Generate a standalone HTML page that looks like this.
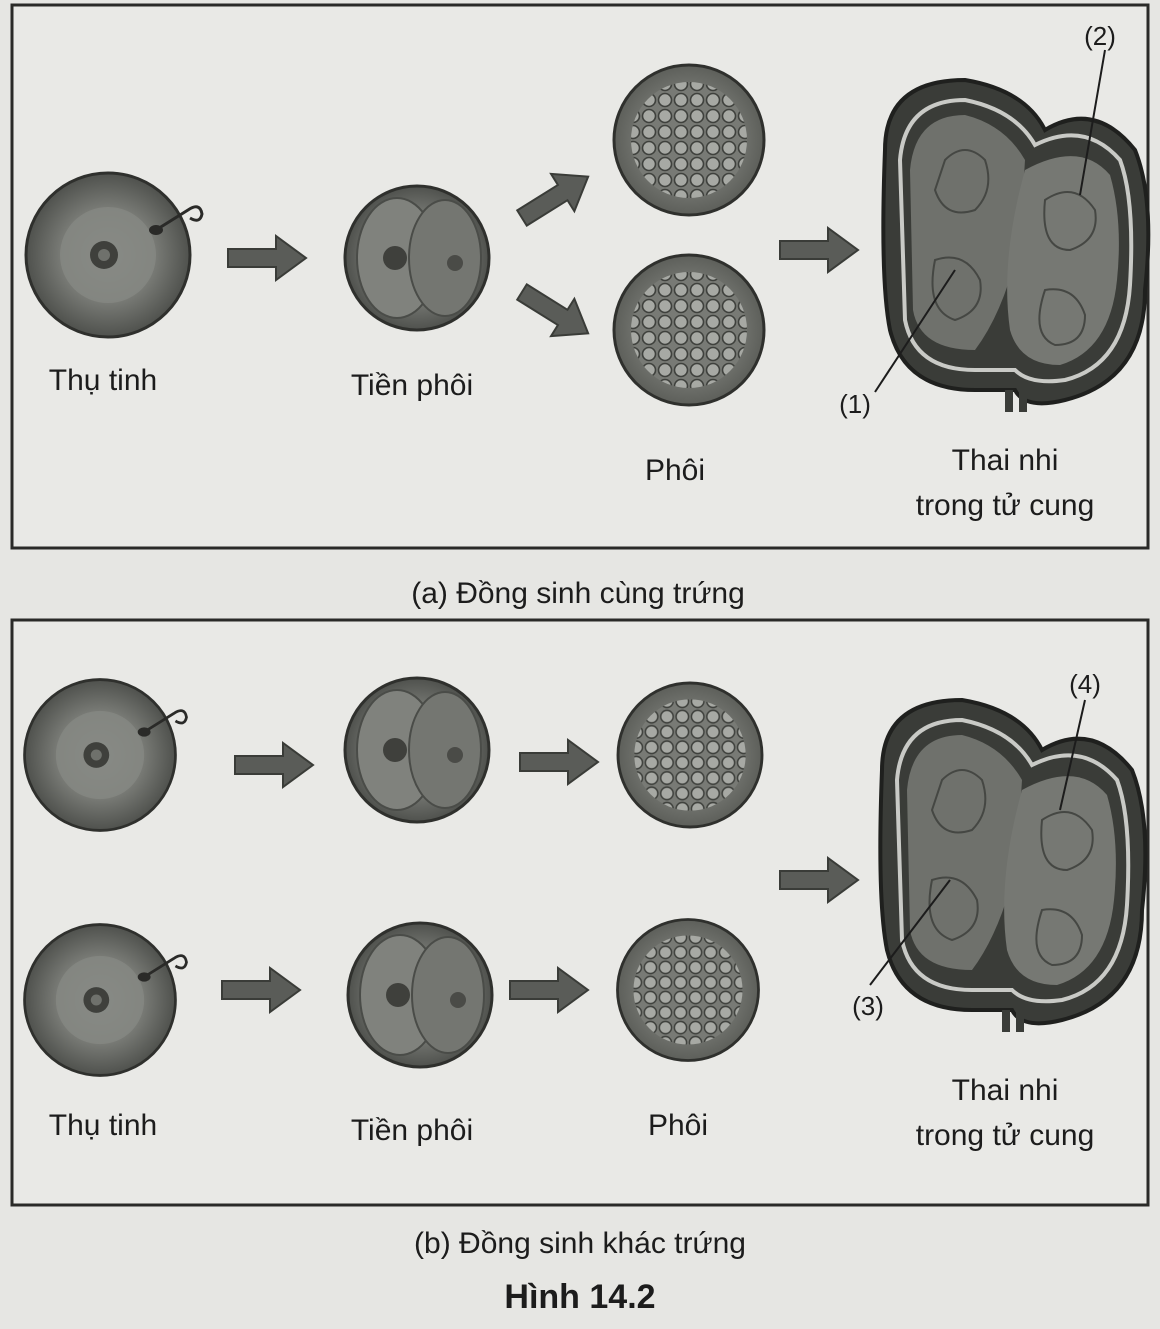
<!DOCTYPE html>
<html><head><meta charset="utf-8">
<style>
html,body{margin:0;padding:0;background:#e6e6e3;}
svg{display:block;}
text{font-family:"Liberation Sans","DejaVu Sans",sans-serif;fill:#1c1c1c;}
</style></head><body>
<svg width="1160" height="1329" viewBox="0 0 1160 1329" xmlns="http://www.w3.org/2000/svg">
<defs>
<radialGradient id="egg" cx="50%" cy="50%" r="50%">
<stop offset="0%" stop-color="#8e908b"/><stop offset="55%" stop-color="#7b7d78"/><stop offset="100%" stop-color="#4f514d"/>
</radialGradient>
<radialGradient id="emb" cx="50%" cy="50%" r="50%">
<stop offset="0%" stop-color="#9fa19c"/><stop offset="100%" stop-color="#5d5f5a"/>
</radialGradient>
<pattern id="cells" width="16" height="16" patternUnits="userSpaceOnUse">
<rect width="16" height="16" fill="#787a75"/>
<circle cx="8" cy="8" r="6.5" fill="#a7a9a4" stroke="#3f413d" stroke-width="1.6"/>
</pattern>
<g id="arrow"><polygon points="0,-9 48,-9 48,-22 78,0 48,22 48,9 0,9" fill="#5a5c58" stroke="#3a3c38" stroke-width="2"/></g>
<g id="egg1">
<circle r="82" fill="url(#egg)" stroke="#2f302d" stroke-width="3"/>
<circle r="48" fill="#868883" opacity="0.8"/>
<circle cx="-4" cy="0" r="14" fill="#3f403c"/>
<circle cx="-4" cy="0" r="6" fill="#6f716c"/>
<path d="M48,-25 L80,-45 q12,-8 14,4 q-2,10 -12,4" fill="none" stroke="#2a2a28" stroke-width="3"/>
<ellipse cx="48" cy="-25" rx="7" ry="5" fill="#2a2a28"/>
</g>
<g id="two">
<circle r="72" fill="url(#egg)" stroke="#2f302d" stroke-width="3"/>
<ellipse cx="-20" cy="0" rx="40" ry="60" fill="#80827d" stroke="#4a4c48" stroke-width="2"/>
<ellipse cx="28" cy="0" rx="36" ry="58" fill="#747671" stroke="#4a4c48" stroke-width="2"/>
<circle cx="-22" cy="0" r="12" fill="#3f403c"/>
<circle cx="38" cy="5" r="8" fill="#4a4b47"/>
</g>
<g id="ball">
<circle r="75" fill="url(#emb)" stroke="#2f302d" stroke-width="3"/>
<circle r="58" fill="url(#cells)"/>
</g>
<g id="uterus">
<path d="M-120,-90 Q-120,-160 -40,-160 Q20,-150 40,-110 Q90,-140 130,-90 Q150,-40 140,50 Q140,140 60,160 Q20,170 10,150 L-30,150 Q-100,150 -115,90 Q-125,40 -120,-90Z" fill="#3a3c38" stroke="#1f201e" stroke-width="4"/>
<path d="M-105,-80 Q-100,-140 -40,-140 Q10,-130 30,-95 Q80,-120 115,-80 Q130,-40 125,45 Q120,125 60,140 Q25,145 10,130 L-30,130 Q-90,130 -100,80Z" fill="none" stroke="#c9cac6" stroke-width="4"/>
<path d="M-95,-70 Q-90,-125 -40,-125 Q0,-115 20,-80 L15,0 Q0,70 -30,110 Q-85,110 -92,70Z" fill="#6f716c"/>
<path d="M20,-70 Q75,-100 105,-65 Q118,-20 112,40 Q105,110 55,125 Q15,125 5,90 Q-5,20 20,-70Z" fill="#767873"/>
<path d="M-60,-80 q20,-20 40,0 q10,30 -10,50 q-30,10 -40,-20z M40,-40 q30,-20 50,10 q5,30 -25,40 q-30,0 -25,-50z M-70,20 q30,-10 45,20 q5,30 -25,40 q-30,-10 -20,-60z M40,50 q30,-5 40,25 q0,30 -30,30 q-25,-10 -10,-55z" fill="none" stroke="#454743" stroke-width="2"/>
<rect x="0" y="150" width="8" height="22" fill="#3a3c38"/><rect x="14" y="150" width="8" height="22" fill="#3a3c38"/>
</g>
</defs>

<!-- Box a -->
<rect x="12" y="5" width="1136" height="543" fill="#e9e9e6" stroke="#2a2a28" stroke-width="3"/>
<use href="#egg1" x="108" y="255"/>
<use href="#arrow" x="228" y="258"/>
<use href="#two" x="417" y="258"/>
<use href="#arrow" transform="translate(522,218) rotate(-32)"/>
<use href="#arrow" transform="translate(522,292) rotate(32)"/>
<use href="#ball" x="689" y="140"/>
<use href="#ball" x="689" y="330"/>
<use href="#arrow" x="780" y="250"/>
<use href="#uterus" x="1005" y="240"/>
<line x1="875" y1="392" x2="955" y2="270" stroke="#1c1c1c" stroke-width="2"/>
<line x1="1080" y1="195" x2="1105" y2="50" stroke="#1c1c1c" stroke-width="2"/>
<text x="103" y="390" font-size="30" text-anchor="middle">Thụ tinh</text>
<text x="412" y="395" font-size="30" text-anchor="middle">Tiền phôi</text>
<text x="675" y="480" font-size="30" text-anchor="middle">Phôi</text>
<text x="855" y="413" font-size="26" text-anchor="middle">(1)</text>
<text x="1100" y="45" font-size="26" text-anchor="middle">(2)</text>
<text x="1005" y="470" font-size="30" text-anchor="middle">Thai nhi</text>
<text x="1005" y="515" font-size="30" text-anchor="middle">trong tử cung</text>
<text x="578" y="603" font-size="30" text-anchor="middle">(a) Đồng sinh cùng trứng</text>

<!-- Box b -->
<rect x="12" y="620" width="1136" height="585" fill="#e9e9e6" stroke="#2a2a28" stroke-width="3"/>
<use href="#egg1" transform="translate(100,755) scale(0.92)"/>
<use href="#egg1" transform="translate(100,1000) scale(0.92)"/>
<use href="#arrow" x="235" y="765"/>
<use href="#arrow" x="222" y="990"/>
<use href="#two" x="417" y="750"/>
<use href="#two" x="420" y="995"/>
<use href="#arrow" x="520" y="762"/>
<use href="#arrow" x="510" y="990"/>
<use href="#ball" transform="translate(690,755) scale(0.96)"/>
<use href="#ball" transform="translate(688,990) scale(0.94)"/>
<use href="#arrow" x="780" y="880"/>
<use href="#uterus" x="1002" y="860"/>
<line x1="870" y1="985" x2="950" y2="880" stroke="#1c1c1c" stroke-width="2"/>
<line x1="1060" y1="810" x2="1085" y2="700" stroke="#1c1c1c" stroke-width="2"/>
<text x="103" y="1135" font-size="30" text-anchor="middle">Thụ tinh</text>
<text x="412" y="1140" font-size="30" text-anchor="middle">Tiền phôi</text>
<text x="678" y="1135" font-size="30" text-anchor="middle">Phôi</text>
<text x="868" y="1015" font-size="26" text-anchor="middle">(3)</text>
<text x="1085" y="693" font-size="26" text-anchor="middle">(4)</text>
<text x="1005" y="1100" font-size="30" text-anchor="middle">Thai nhi</text>
<text x="1005" y="1145" font-size="30" text-anchor="middle">trong tử cung</text>
<text x="580" y="1253" font-size="30" text-anchor="middle">(b) Đồng sinh khác trứng</text>
<text x="580" y="1308" font-size="34" font-weight="bold" text-anchor="middle">Hình 14.2</text>
</svg>
</body></html>
